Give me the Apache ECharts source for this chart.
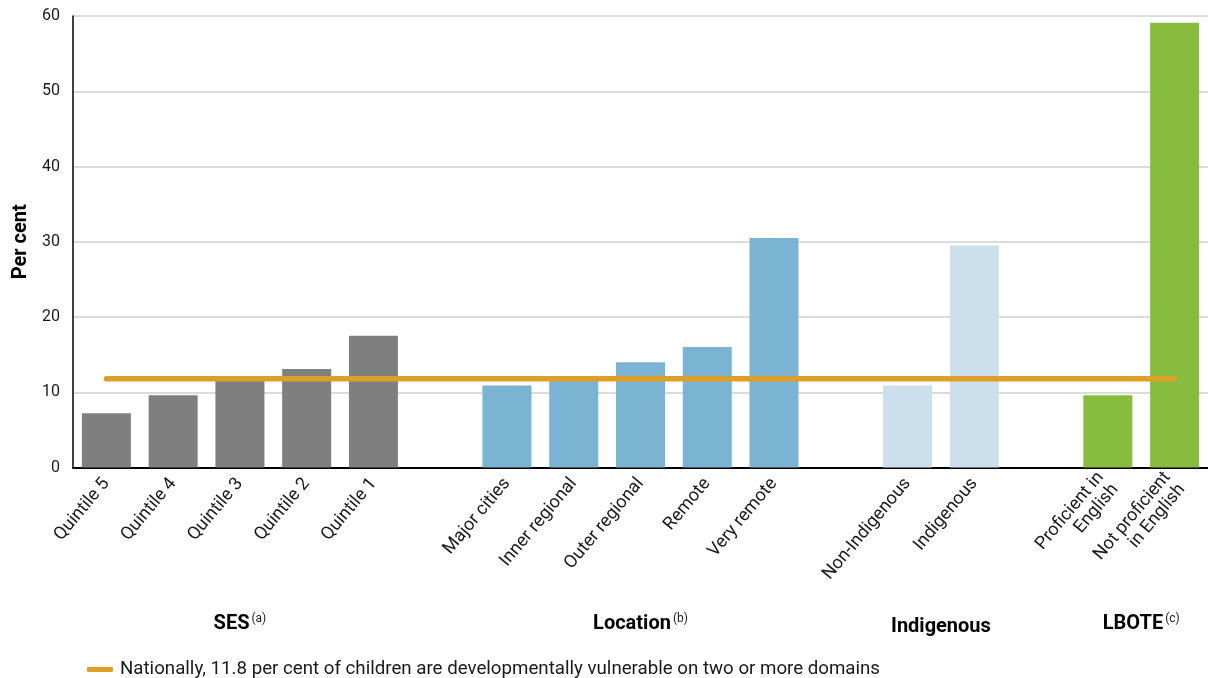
<!DOCTYPE html>
<html>
<head>
<meta charset="utf-8">
<script src="https://cdn.jsdelivr.net/npm/echarts@6/dist/echarts.min.js"></script>
<style>
html,body{margin:0;padding:0;background:#fff;}
#chart{width:1208px;height:678px;}
</style>
</head>
<body>
<div id="chart"></div>
<script>
// ---- data ----
var categories = ['Quintile 5','Quintile 4','Quintile 3','Quintile 2','Quintile 1','',
  'Major cities','Inner regional','Outer regional','Remote','Very remote','',
  'Non-Indigenous','Indigenous','',
  'Proficient in\nEnglish','Not proficient\nin English'];
var values = [7.2, 9.6, 11.5, 13.1, 17.5, null,
  10.9, 11.6, 14.0, 16.0, 30.5, null,
  10.9, 29.5, null,
  9.6, 59.1];
var groupOf = [0,0,0,0,0,-1, 1,1,1,1,1,-1, 2,2,-1, 3,3];
var groupNames = ['SES', 'Location', 'Indigenous', 'LBOTE'];
var groupNotes = ['(a)', '(b)', '', '(c)'];
var groupColors = ['#7F7F7F', '#7BB3D2', '#CBE0EC', '#88BC3F'];
var nationalValue = 11.8;
var nationalLabel = 'Nationally, 11.8 per cent of children are developmentally vulnerable on two or more domains';
var yTicks = [0, 10, 20, 30, 40, 50, 60];

var FONT = 'Roboto';

var barData = values.map(function (v, i) {
  return { value: v, itemStyle: { color: groupOf[i] >= 0 ? groupColors[groupOf[i]] : 'transparent' } };
});
var lineData = categories.map(function () { return nationalValue; });

var chart = echarts.init(document.getElementById('chart'), null, { renderer: 'canvas' });
var option = {
  animation: false,
  backgroundColor: '#fff',
  textStyle: { fontFamily: FONT },
  grid: { left: 73, top: 16, width: 1137, height: 451.5, containLabel: false },
  legend: {
    data: [{ name: nationalLabel, icon: 'roundRect' }],
    left: 82, top: 655,
    itemWidth: 26, itemHeight: 5, itemGap: 10,
    textStyle: { fontFamily: FONT, fontSize: 18.7, color: '#1a1a1a', padding: [0, 0, 0, 2] }
  },
  xAxis: {
    type: 'category',
    data: categories,
    axisLine: { show: true, lineStyle: { color: '#000', width: 2 } },
    axisTick: { show: false },
    axisLabel: {
      interval: 0, rotate: 50, fontFamily: FONT, fontSize: 18, color: '#1a1a1a',
      margin: 13, lineHeight: 19
    }
  },
  yAxis: {
    type: 'value',
    min: yTicks[0], max: yTicks[yTicks.length - 1], interval: 10,
    name: 'Per cent', nameLocation: 'middle', nameGap: 42,
    nameTextStyle: { fontFamily: FONT, fontSize: 20, fontWeight: 'bold', color: '#000' },
    axisLine: { show: true, lineStyle: { color: '#000', width: 1.5 } },
    axisTick: { show: false },
    axisLabel: { fontFamily: FONT, fontSize: 16, color: '#1a1a1a', margin: 13 },
    splitLine: { lineStyle: { color: '#cfcfcf', width: 1.5 } }
  },
  series: [
    {
      type: 'bar', name: 'values', data: barData, barWidth: 49, z: 2
    },
    {
      type: 'line', name: nationalLabel, data: lineData,
      symbol: 'none', z: 3,
      lineStyle: { color: '#DE9F2A', width: 5.5, cap: 'round' },
      itemStyle: { color: '#DE9F2A' }
    }
  ]
};
chart.setOption(option);

// group labels positioned from the category axis
var groupTexts = [];
for (var g = 0; g < groupNames.length; g++) {
  var idx = [];
  groupOf.forEach(function (gg, i) { if (gg === g) idx.push(i); });
  var x0 = chart.convertToPixel({ xAxisIndex: 0 }, idx[0]);
  var x1 = chart.convertToPixel({ xAxisIndex: 0 }, idx[idx.length - 1]);
  var cx = (x0 + x1) / 2;
  var hasNote = !!groupNotes[g];
  var txt = '{b|' + groupNames[g] + '}' + (hasNote ? '{s|' + groupNotes[g] + '}' : '');
  groupTexts.push({
    type: 'text',
    x: cx, y: hasNote ? 624 : 627,
    style: {
      text: txt,
      align: 'center',
      verticalAlign: 'middle',
      rich: {
        b: { fontFamily: FONT, fontSize: 20, fontWeight: 'bold', fill: '#000', color: '#000' },
        s: { fontFamily: FONT, fontSize: 12, fill: '#1a1a1a', color: '#1a1a1a', verticalAlign: 'top', padding: [0, 0, 10, 2] }
      }
    }
  });
}
chart.setOption({ graphic: groupTexts });
</script>
</body>
</html>
